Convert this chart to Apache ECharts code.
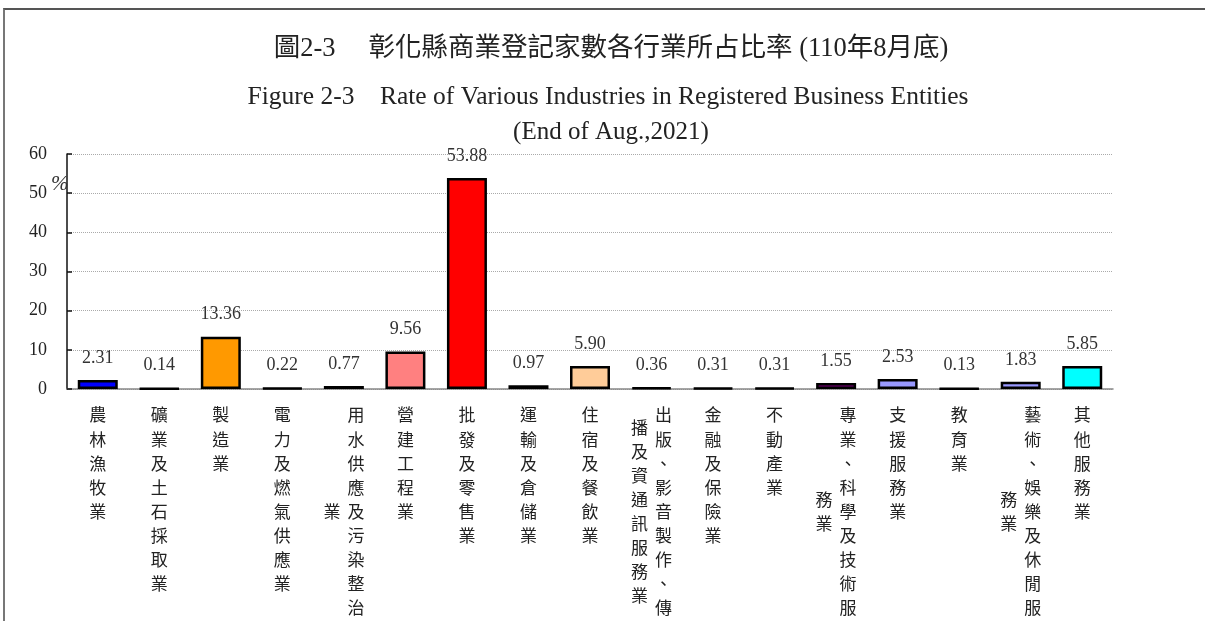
<!DOCTYPE html>
<html>
<head>
<meta charset="utf-8">
<title>圖2-3 彰化縣商業登記家數各行業所占比率</title>
<script src="https://cdn.jsdelivr.net/npm/echarts@6/dist/echarts.min.js"></script>
<style>
  html, body { margin: 0; padding: 0; background: #fff; overflow: hidden; }
  .frame {
    position: absolute; left: 3px; top: 8px; width: 1210px; height: 620px;
    border-left: 2px solid #777; border-top: 2px solid #555;
  }
  #chart { position: absolute; left: 0; top: 0; width: 1205px; height: 621px; }
</style>
</head>
<body>
<div class="frame"></div>
<div id="chart"></div>
<script>
// 右欄(主欄)與左欄(續行)的直式標籤文字
const labelRight = ['農林漁牧業', '礦業及土石採取業', '製造業', '電力及燃氣供應業', '用水供應及污染整治',
  '營建工程業', '批發及零售業', '運輸及倉儲業', '住宿及餐飲業', '出版、影音製作、傳',
  '金融及保險業', '不動產業', '專業、科學及技術服', '支援服務業', '教育業',
  '藝術、娛樂及休閒服', '其他服務業']
const labelLeft = ['', '', '', '', '業',
  '', '', '', '', '播及資通訊服務業',
  '', '', '務業', '', '',
  '務業', '']
const categories = labelRight.map((s, i) => s + labelLeft[i])

// 各行業所占比率 (%)
const rates = [2.31, 0.14, 13.36, 0.22, 0.77, 9.56, 53.88, 0.97, 5.90, 0.36, 0.31, 0.31, 1.55, 2.53, 0.13, 1.83, 5.85]
const barColors = ['#0000ff', '#333333', '#ff9900', '#333333', '#b8960b', '#ff8080', '#ff0000', '#6666cc', '#ffcc99',
  '#333333', '#333333', '#333333', '#800080', '#9999ff', '#333333', '#9999ff', '#00ffff']

const yTicks = [0, 10, 20, 30, 40, 50, 60]

const serif = '"Liberation Serif", "Noto Sans CJK TC", serif'
const cjk = '"Noto Sans CJK TC", sans-serif'

// 直式文字：以半行為單位排列，左欄置中於右欄
function verticalLabel (value, index) {
  let right = labelRight[index]
  let left = labelLeft[index]
  let offset = right.length - left.length
  let lines = []
  for (let k = 0; k < right.length * 2 - 1; k++) {
    let r = k % 2 === 0 ? right[k / 2] : '　'
    if (!left) {
      lines.push('{r|' + r + '}')
      continue
    }
    let j = k - offset
    let l = (j >= 0 && j % 2 === 0 && j / 2 < left.length) ? left[j / 2] : '　'
    lines.push('{l|' + l + '}{r|' + r + '}')
  }
  return lines.join('\n')
}

let myChart = echarts.init(document.getElementById('chart'))

let cellStyle = {
  width: 24,
  align: 'center',
  lineHeight: 12.05,
  fontSize: 17,
  fontFamily: cjk,
  color: '#222'
}

let option = {
  backgroundColor: 'transparent',
  animation: false,
  title: [
    {
      text: '圖2-3　 彰化縣商業登記家數各行業所占比率 (110年8月底)',
      left: 606,
      top: 31,
      textAlign: 'center',
      textStyle: { fontFamily: serif, fontSize: 26.5, fontWeight: 'normal', color: '#222' }
    },
    {
      text: 'Figure 2-3    Rate of Various Industries in Registered Business Entities',
      left: 603,
      top: 80,
      textAlign: 'center',
      textStyle: { fontFamily: serif, fontSize: 25.5, fontWeight: 'normal', color: '#222' }
    },
    {
      text: '(End of Aug.,2021)',
      left: 606,
      top: 115,
      textAlign: 'center',
      textStyle: { fontFamily: serif, fontSize: 25, fontWeight: 'normal', color: '#222' }
    },
    {
      text: '%',
      left: 46,
      top: 169,
      textStyle: { fontFamily: serif, fontSize: 21, fontStyle: 'italic', fontWeight: 'normal', color: '#333' }
    }
  ],
  grid: {
    left: 67,
    right: 92,
    top: 154,
    bottom: 232
  },
  xAxis: {
    type: 'category',
    data: categories,
    axisLine: { lineStyle: { color: '#888', width: 1.5 } },
    axisTick: { inside: true, length: 5, lineStyle: { color: '#888' } },
    axisLabel: {
      interval: 0,
      margin: 20,
      formatter: verticalLabel,
      rich: { r: cellStyle, l: cellStyle }
    }
  },
  yAxis: {
    type: 'value',
    min: yTicks[0],
    max: yTicks[yTicks.length - 1],
    interval: yTicks[1] - yTicks[0],
    axisLine: { show: true, lineStyle: { color: '#111', width: 1.5 } },
    axisTick: { show: true, inside: true, length: 5, lineStyle: { color: '#111', width: 1.5 } },
    axisLabel: {
      margin: 20,
      fontFamily: serif,
      fontSize: 18,
      color: '#222'
    },
    splitLine: { lineStyle: { color: '#aaa', type: 'dotted', width: 1 } }
  },
  series: [
    {
      type: 'bar',
      barWidth: 40,
      data: rates.map((v, i) => ({
        value: v,
        itemStyle: { color: barColors[i] }
      })),
      itemStyle: {
        borderColor: '#000',
        borderWidth: 2.5
      },
      label: {
        show: true,
        position: 'top',
        distance: 13,
        formatter: p => p.value.toFixed(2),
        fontFamily: serif,
        fontSize: 18,
        color: '#333'
      }
    }
  ]
}

myChart.setOption(option)
</script>
</body>
</html>
